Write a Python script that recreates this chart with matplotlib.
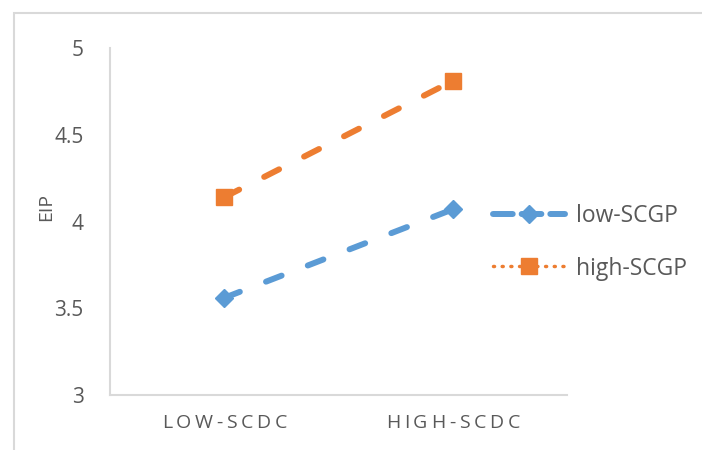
import matplotlib
matplotlib.use("Agg")
import matplotlib.pyplot as plt
from matplotlib.lines import Line2D
from matplotlib.font_manager import FontProperties, findfont, get_font
from matplotlib.transforms import offset_copy

categories = ["LOW-SCDC", "HIGH-SCDC"]
low_scgp = [3.56, 4.07]
high_scgp = [4.14, 4.81]
series_names = ["low-SCGP", "high-SCGP"]
y_ticks = [3, 3.5, 4, 4.5, 5]
y_tick_labels = ["3", "3.5", "4", "4.5", "5"]

BLUE = "#5B9BD5"
ORANGE = "#ED7D31"
TEXT = "#595959"
GRID = "#D9D9D9"
FONT = "Open Sans"
DPI = 100

fig = plt.figure(figsize=(7.02, 4.5), dpi=DPI)
fig.patch.set_facecolor("white")

# outer chart frame
frame = plt.Rectangle((14 / 702, -0.1), 1.2, (450 - 13) / 450 + 0.1,
                      transform=fig.transFigure, fill=False,
                      edgecolor=GRID, linewidth=1.5)
fig.patches.append(frame)

ax = fig.add_axes([110 / 702, 55 / 450, 457 / 702, 347 / 450])
x = [0, 1]
dash = (0, (2.8, 4.7))
ax.plot(x, low_scgp, color=BLUE, linewidth=4.3, linestyle=dash,
        dash_capstyle="round", marker="D", markersize=9,
        markerfacecolor=BLUE, markeredgecolor=BLUE)
ax.plot(x, high_scgp, color=ORANGE, linewidth=4.3, linestyle=dash,
        dash_capstyle="round", marker="s", markersize=11,
        markerfacecolor=ORANGE, markeredgecolor=ORANGE)

ax.set_xlim(-0.5, 1.5)
ax.set_ylim(3, 5)
ax.set_xticks(x)
ax.set_xticklabels([])
ax.set_yticks(y_ticks)
ax.set_yticklabels(y_tick_labels)
ax.tick_params(length=0, colors=TEXT)
ax.tick_params(axis="y", pad=19, labelsize=15)
for lab in ax.get_yticklabels():
    lab.set_fontfamily(FONT)
    lab.set_color(TEXT)

for side in ("top", "right"):
    ax.spines[side].set_visible(False)
for side in ("left", "bottom"):
    ax.spines[side].set_color(GRID)
    ax.spines[side].set_linewidth(1.5)

# category labels with wide letter spacing, one glyph per text item
cat_size = 14
tracking_px = 3.7
prop = FontProperties(family=FONT, size=cat_size)
ft = get_font(findfont(prop))
ft.set_size(cat_size, DPI)


def advance(ch):
    g = ft.load_char(ord(ch))
    return g.linearHoriAdvance / 65536.0


for xi, label in zip(x, categories):
    widths = [advance(c) for c in label]
    total = sum(widths) + tracking_px * (len(label) - 1)
    pos = -total / 2.0
    for ch, w in zip(label, widths):
        tr = offset_copy(ax.get_xaxis_transform(), fig=fig,
                         x=pos * 72.0 / DPI, y=-19 * 72.0 / DPI, units="points")
        ax.text(xi, 0, ch, transform=tr, ha="left", va="top",
                fontsize=cat_size, fontfamily=FONT, color=TEXT)
        pos += w + tracking_px

fig.text(46 / 702, 1 - 207 / 450, "EIP", rotation=90, ha="center", va="center",
         fontsize=14, color=TEXT, fontfamily=FONT)

handles = [
    Line2D([], [], color=BLUE, linewidth=4.3, linestyle=(0, (3.3, 1.5)),
           dash_capstyle="round", marker="D", markersize=9),
    Line2D([], [], color=ORANGE, linewidth=2.5, linestyle=(0, (0.3, 2.2)),
           dash_capstyle="round", marker="s", markersize=12),
]
leg = fig.legend(handles, series_names, loc="upper left",
                 bbox_to_anchor=(472 / 702, 1 - 183 / 450), frameon=False,
                 handlelength=3.15, labelspacing=1.26, handletextpad=0.5,
                 prop={"family": FONT, "size": 16.5})
for t in leg.get_texts():
    t.set_color(TEXT)

fig.savefig("out.png", dpi=DPI, facecolor="white")
